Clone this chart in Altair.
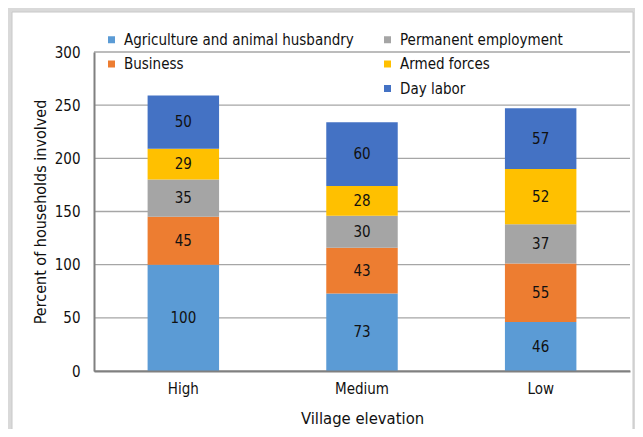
import altair as alt
import pandas as pd

elevations = ["High", "Medium", "Low"]
sources = ["Agriculture and animal husbandry", "Business", "Permanent employment",
           "Armed forces", "Day labor"]
agriculture = [100, 73, 46]
business = [45, 43, 55]
permanent = [35, 30, 37]
armed = [29, 28, 52]
day_labor = [50, 60, 57]
colors = ["#5B9BD5", "#ED7D31", "#A5A5A5", "#FFC000", "#4472C4"]
y_ticks = [0, 50, 100, 150, 200, 250, 300]

FONT = "DejaVu Sans Condensed, Liberation Sans Narrow, sans-serif"

series = [agriculture, business, permanent, armed, day_labor]
rows = []
for si, (name, vals) in enumerate(zip(sources, series)):
    for e, v in zip(elevations, vals):
        rows.append({"elev": e, "source": name, "idx": si, "value": v})
df = pd.DataFrame(rows)

# legend fills column by column: a blank slot keeps "Day labor" in the right column
legend_domain = [sources[0], sources[1], " ", sources[2], sources[3], sources[4]]
legend_range = [colors[0], colors[1], "rgba(0,0,0,0)", colors[2], colors[3], colors[4]]

y_scale = alt.Scale(domain=[0, 300], nice=False)

x_enc = alt.X("elev:N", sort=elevations,
              scale=alt.Scale(paddingInner=0.6, paddingOuter=0.3),
              axis=alt.Axis(title="Village elevation", labelAngle=0, ticks=False,
                            domainColor="#808080", domainWidth=2, zindex=1,
                            labelFontSize=15, titleFontSize=16.5, labelPadding=10,
                            titlePadding=14, labelColor="#111", titleColor="#111",
                            titleFontWeight="normal", labelFont=FONT, titleFont=FONT))

bg = alt.Chart(pd.DataFrame({"a": [0]})).mark_rect(color="white", stroke="#c8c8c8", strokeWidth=1).encode(
    x=alt.value(-82), x2=alt.value(539), y=alt.value(-40), y2=alt.value(400))

grid = alt.Chart(pd.DataFrame({"tick": y_ticks})).mark_rule(color="#a6a6a6", strokeWidth=1.3).encode(
    y=alt.Y("tick:Q", scale=y_scale))

base = alt.Chart(df)
bars = base.mark_bar().encode(
    x=x_enc,
    y=alt.Y("value:Q", stack="zero", scale=y_scale,
            axis=alt.Axis(title="Percent of households involved", values=y_ticks,
                          ticks=False, grid=False, domainColor="#808080", domainWidth=2,
                          zindex=1,
                          labelFontSize=15, titleFontSize=16, labelPadding=14,
                          titlePadding=6, labelColor="#111", titleColor="#111",
                          titleFontWeight="normal", labelFont=FONT, titleFont=FONT)),
    color=alt.Color("source:N",
                    scale=alt.Scale(domain=legend_domain, range=legend_range),
                    legend=alt.Legend(title=None, orient="none", legendX=10, legendY=-20,
                                      columns=2, symbolType="square", symbolSize=49,
                                      symbolStrokeWidth=0, labelFontSize=15,
                                      labelFont=FONT, labelColor="#111",
                                      labelOffset=5, rowPadding=8.5, columnPadding=26,
                                      labelLimit=400)),
    order=alt.Order("idx:Q", sort="ascending"),
)

labels = base.transform_stack(
    stack="value", as_=["y0", "y1"], groupby=["elev"],
    sort=[alt.SortField("idx", order="ascending")]
).transform_calculate(
    mid="(datum.y0 + datum.y1) / 2"
).mark_text(font=FONT, fontSize=15, color="#111", baseline="middle").encode(
    x=alt.X("elev:N", sort=elevations),
    y=alt.Y("mid:Q"),
    text=alt.Text("value:Q"),
)

chart = alt.layer(bg, grid, bars, labels).properties(
    width=536, height=319,
    background="#d9d9d9",
    autosize=alt.AutoSizeParams(type="none"),
    padding={"left": 86, "top": 44, "right": 5, "bottom": 58},
).configure_view(stroke=None)

chart.save("out.html", embed_options={"renderer": "svg", "actions": False})
